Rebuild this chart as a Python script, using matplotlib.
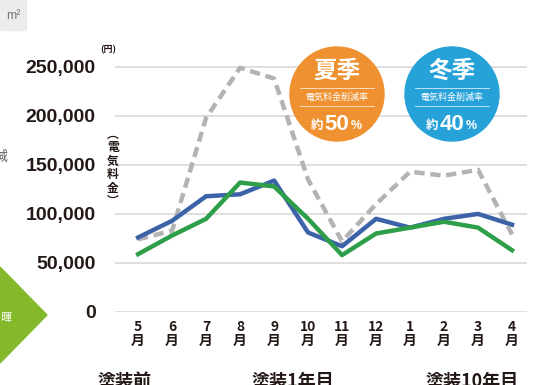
import numpy as np
import matplotlib
matplotlib.use("Agg")
import matplotlib.pyplot as plt
from matplotlib.patches import Ellipse, Polygon, Rectangle

months = ["5", "6", "7", "8", "9", "10", "11", "12", "1", "2", "3", "4"]
before = [74000, 83000, 198000, 249000, 238000, 135000, 72000, 110000, 143000, 139000, 145000, 79000]
year1 = [76000, 93000, 118000, 120000, 134000, 81000, 67000, 95000, 86000, 95000, 100000, 89000]
year10 = [59000, 78000, 95000, 132000, 128000, 95000, 58000, 80000, 86000, 92000, 86000, 63000]
yticks = [0, 50000, 100000, 150000, 200000, 250000]
legend_names = ["塗装前", "塗装1年目", "塗装10年目"]

plt.rcParams['font.family'] = ['Liberation Sans', 'Noto Sans CJK JP', 'DejaVu Sans']
cjk = ['Noto Sans CJK JP', 'DejaVu Sans']

W, H = 540, 385
fig = plt.figure(figsize=(W / 100, H / 100), dpi=100)

def fx(px):
    return px / W

def fy(py):
    return 1 - py / H

ax = fig.add_axes([fx(115), fy(312), fx(527) - fx(115), fy(55) - fy(312)])
x = np.arange(len(months))
ax.set_xlim(-0.68, 11.44)
ax.set_ylim(0, 262000)

ax.plot(x, before, color="#b3b3b3", lw=3.2, ls=(0, (2.3, 1.3)), zorder=2)
ax.plot(x, year1, color="#3c62a8", lw=3.2, zorder=3, solid_joinstyle="round")
ax.plot(x, year10, color="#2e9e48", lw=3.2, zorder=4, solid_joinstyle="round")

ax.set_yticks(yticks)
ax.set_yticklabels([f"{v:,}" for v in yticks], fontsize=14, fontweight="bold", color="#231815")
ax.set_xticks(x)
ax.set_xticklabels([m + "\n月" for m in months], fontsize=10, fontweight="bold",
                   color="#231815", family=cjk, linespacing=0.95)
ax.tick_params(length=0)
ax.tick_params(axis="y", pad=14)
ax.tick_params(axis="x", pad=6)
for s in ax.spines.values():
    s.set_visible(False)
ax.grid(axis="y", color="#dcdcdc", lw=1.3)
ax.set_axisbelow(True)

# unit labels
fig.text(fx(108), fy(50), "(円)", fontsize=6.5, fontweight="bold", family=cjk,
         ha="center", va="center", color="#231815")
fig.text(fx(113), fy(168), "︵\n電\n気\n料\n金\n︶", fontsize=8.5, fontweight="bold", family=cjk,
         ha="center", va="center", color="#231815", linespacing=1.05)

# badges
badges = [(337, "#ef9131", "夏季", "約", "50", "%"), (452, "#27a2d9", "冬季", "約", "40", "%")]
for cx, col, title, pre, num, pct in badges:
    cy, r = 94, 47
    fig.patches.append(Ellipse((fx(cx), fy(cy)), 2 * r / W, 2 * r / H, color=col,
                               transform=fig.transFigure, zorder=5))
    fig.text(fx(cx), fy(71), title, fontsize=17, fontweight="bold", family=cjk,
             color="white", ha="center", va="center", zorder=6)
    for ly in (88, 106):
        fig.lines.append(plt.Line2D([fx(cx - 37), fx(cx + 37)], [fy(ly), fy(ly)],
                                    color="white", lw=0.6, alpha=0.8,
                                    transform=fig.transFigure, zorder=6))
    fig.text(fx(cx), fy(97), "電気料金削減率", fontsize=6.5, family=cjk,
             color="white", ha="center", va="center", zorder=6)
    fig.text(fx(cx - 20), fy(125), pre, fontsize=9, fontweight="bold", family=cjk,
             color="white", ha="center", va="center", zorder=6)
    fig.text(fx(cx), fy(124), num, fontsize=16, fontweight="bold",
             color="white", ha="center", va="center", zorder=6)
    fig.text(fx(cx + 19), fy(126), pct, fontsize=9, fontweight="bold",
             color="white", ha="center", va="center", zorder=6)

# page fragments around the chart
fig.patches.append(Rectangle((0, fy(30)), fx(26), fy(0) - fy(30), color="#ececec",
                             transform=fig.transFigure, zorder=1))
fig.text(fx(13), fy(16), "m²", fontsize=9, color="#777777", ha="center", va="center")
fig.text(fx(7), fy(157), "減", fontsize=10, family=cjk, color="#666666", ha="right", va="center")
fig.patches.append(Polygon([(0, fy(267)), (fx(47), fy(315)), (0, fy(363))], closed=True,
                           color="#84b92b", transform=fig.transFigure, zorder=1))
fig.text(fx(6), fy(318), "暉", fontsize=8, family=cjk, color="white", ha="center", va="center")

# legend labels cut by bottom edge, as in the page crop
for px, name in zip([97, 251, 425], legend_names):
    fig.text(fx(px), fy(372), name, fontsize=13, fontweight="bold", family=cjk,
             color="#231815", ha="left", va="top")

fig.savefig("out.png", dpi=100)
